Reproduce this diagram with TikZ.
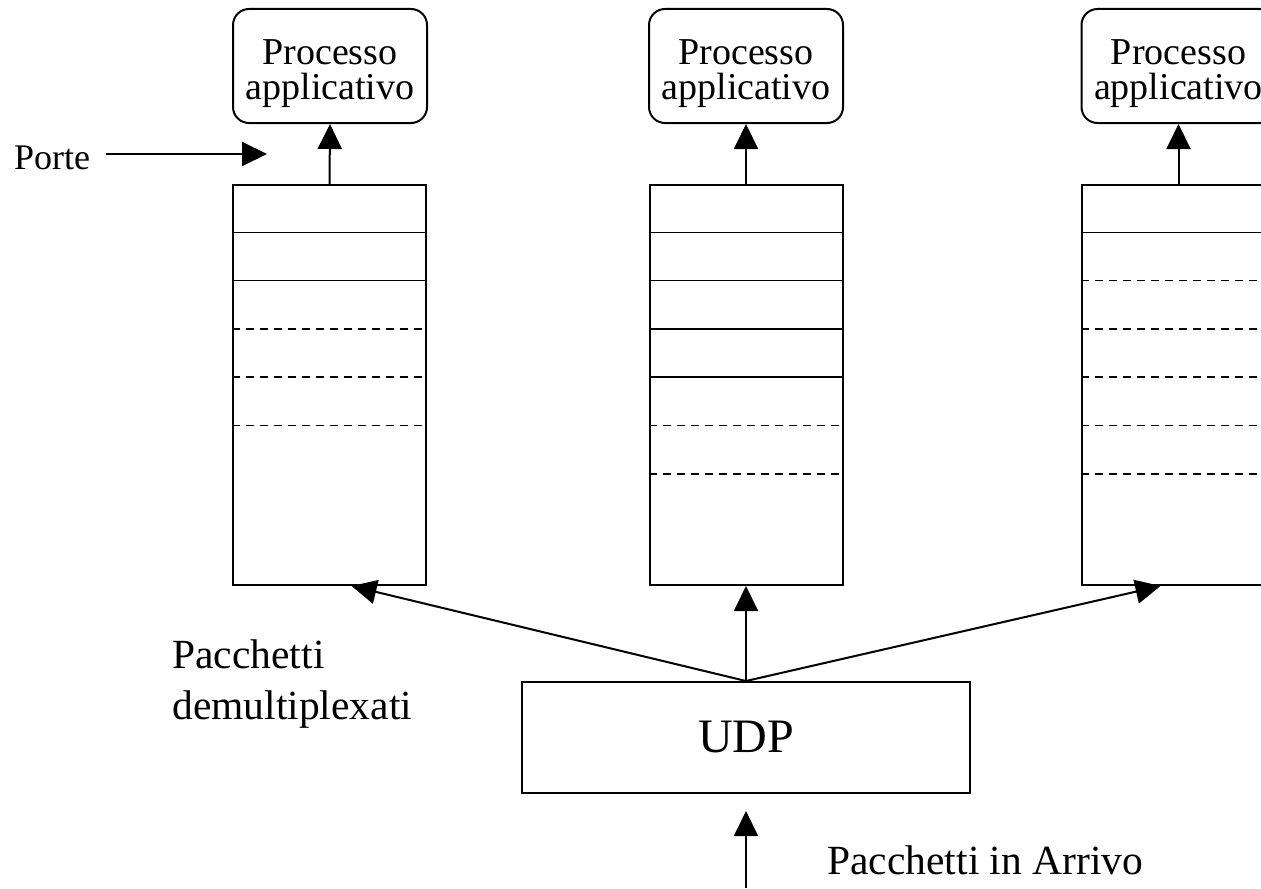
\documentclass[tikz,border=0pt]{standalone}
\usepackage{fontspec}
\setmainfont{Liberation Serif}
\usetikzlibrary{arrows.meta,calc}
\tikzset{
  proc/.style={draw, line width=1pt, rounded corners=8pt, minimum width=97pt,
    minimum height=57pt, inner sep=0pt, align=center,
    font=\fontsize{19}{17.25}\selectfont},
  coda/.style={draw, line width=1pt, minimum width=96.5pt, minimum height=200pt, inner sep=0pt},
  slot/.style={line width=0.75pt},
  slotvuoto/.style={line width=0.75pt, dash pattern=on 4pt off 3pt},
  freccia/.style={line width=1pt, -{Triangle[length=12.5pt,width=12pt]}},
  etichetta/.style={inner sep=0pt, align=left, font=\fontsize{20.75}{25.5}\selectfont}
}

\begin{document}
\begin{tikzpicture}[x=0.5pt,y=-0.5pt]
  \useasboundingbox (0,0) rectangle (1261,888);
  \clip (0,0) rectangle (1261,888);

  \node[coda] (codaA) at (329.5,385) {};
  \node[coda] (codaB) at (746,385) {};
  \node[coda] (codaC) at (1178.5,385) {};

  \foreach \k in {1,2}
    \draw[slot] ($(codaA.north west)+(0,48.3*\k)$) -- ($(codaA.north east)+(0,48.3*\k)$);
  \foreach \k in {3,4,5}
    \draw[slotvuoto] ($(codaA.north west)+(0,48.3*\k)$) -- ($(codaA.north east)+(-4,48.3*\k)$);
  \foreach \k in {1,2,3,4}
    \draw[slot] ($(codaB.north west)+(0,48.3*\k)$) -- ($(codaB.north east)+(0,48.3*\k)$);
  \foreach \k in {5,6}
    \draw[slotvuoto] ($(codaB.north west)+(0,48.3*\k)$) -- ($(codaB.north east)+(-4,48.3*\k)$);
  \foreach \k in {1}
    \draw[slot] ($(codaC.north west)+(0,48.3*\k)$) -- ($(codaC.north east)+(0,48.3*\k)$);
  \foreach \k in {2,3,4,5,6}
    \draw[slotvuoto] ($(codaC.north west)+(0,48.3*\k)$) -- ($(codaC.north east)+(-4,48.3*\k)$);

  \node[proc] (procA) at (330,66) {\rule{0pt}{20pt}Processo\\applicativo};
  \node[proc] (procB) at (746,66) {\rule{0pt}{20pt}Processo\\applicativo};
  \node[proc] (procC) at (1178.5,66) {\rule{0pt}{20pt}Processo\\applicativo};

  \draw[freccia] (codaA.north) -- (procA.south);
  \draw[freccia] (codaB.north) -- (procB.south);
  \draw[freccia] (codaC.north) -- (procC.south);

  \node[draw, line width=1pt, minimum width=224pt, minimum height=55.5pt, inner sep=0pt,
    font=\fontsize{24}{28}\selectfont] (udp) at (746,737.5) {UDP};

  \draw[freccia] (udp.north) -- ($(codaA.south)+(22,0)$);
  \draw[freccia] (udp.north) -- (codaB.south);
  \draw[freccia] (udp.north) -- ($(codaC.south)+(-18,0)$);

  \coordinate (arrivo) at (746,888);
  \draw[freccia, shorten >=8.5pt] (arrivo) -- (udp.south);

  \node[inner xsep=8pt, inner ysep=0pt, font=\fontsize{18}{20}\selectfont] (porte) at (52,158) {Porte};
  \coordinate (porteFine) at (267,154);
  \draw[freccia] (porte.east |- porteFine) -- (porteFine);

  \node[etichetta, anchor=west] (demux) at (172,684) {Pacchetti\\demultiplexati};
  \node[etichetta, anchor=west] (arrivi) at (827,860) {Pacchetti in Arrivo};
\end{tikzpicture}
\end{document}
